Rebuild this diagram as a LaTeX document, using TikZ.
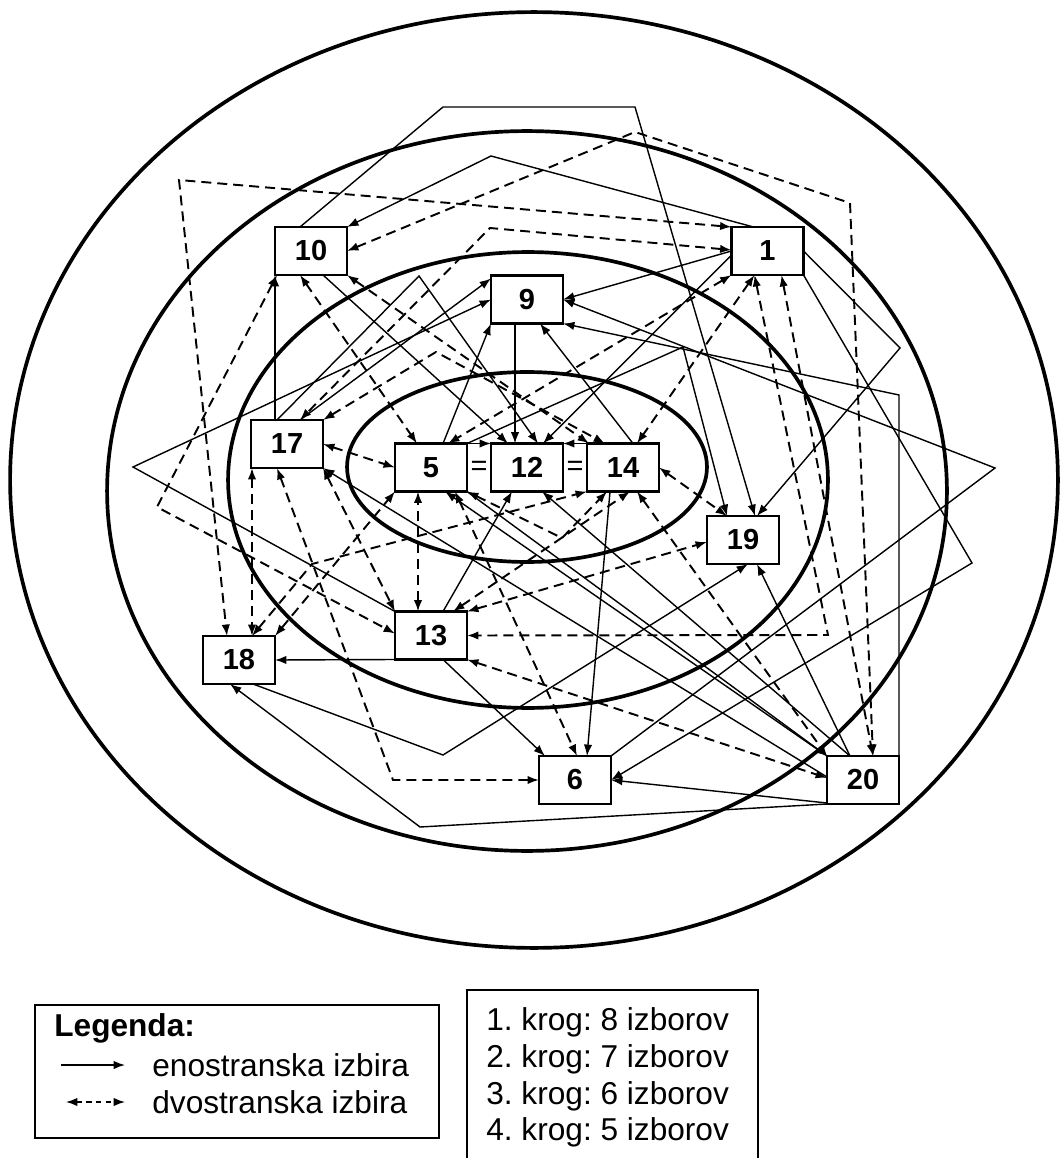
\documentclass[tikz,border=0pt]{standalone}
\usepackage{fontspec}
\setmainfont{Liberation Sans}
\usetikzlibrary{calc,arrows.meta}
\frenchspacing

\begin{document}
\begin{tikzpicture}[x=0.02cm, y=-0.02cm, >={Latex[length=6.5pt,width=4.8pt]}]
  \tikzset{
    oseba/.style={draw, line width=1.2pt, fill=white, inner sep=0pt, minimum width=1.44cm, minimum height=0.96cm, font=\fontsize{16.5}{19}\selectfont\bfseries},
    eno/.style={->, line width=0.8pt},
    dvo/.style={<->, line width=1.1pt, dash pattern=on 5.7pt off 3.4pt},
    krog/.style={line width=2.1pt},
    legtext/.style={anchor=west, inner sep=0pt, font=\fontsize{18}{21}\selectfont},
  }
  \useasboundingbox (0,0) rectangle (1059,1158);

  % krogi
  \draw[krog] (534,480) ellipse [x radius=10.48cm, y radius=9.36cm];
  \draw[krog] (527,491) ellipse [x radius=8.4cm, y radius=7.2cm];
  \draw[krog] (528,480) ellipse [x radius=6cm, y radius=4.56cm];
  \draw[krog] (527,467) ellipse [x radius=3.6cm, y radius=1.9cm];

  % osebe
  \node (u1) at (767.5,251) [oseba] {1};
  \node (u10) at (311,251) [oseba] {10};
  \node (u9) at (527,299.5) [oseba] {9};
  \node (u17) at (287,444) [oseba] {17};
  \node (u5) at (431,467.5) [oseba] {5};
  \node (u12) at (527,467.5) [oseba] {12};
  \node (u14) at (623,467.5) [oseba] {14};
  \node (u19) at (743,540) [oseba] {19};
  \node (u13) at (431,635.5) [oseba] {13};
  \node (u18) at (239,660) [oseba] {18};
  \node (u6) at (575,780) [oseba] {6};
  \node (u20) at (863,780) [oseba] {20};
  \node (eq1) at (479,468) [font=\fontsize{16.5}{19}\selectfont] {=};
  \node (eq2) at (575,468) [font=\fontsize{16.5}{19}\selectfont] {=};

  % enostranske izbire
  \draw[eno] ($(u17)+(-12,-24)$) -- ($(u10)+(-36,24)$);
  \draw[eno] ($(u17)+(13,-24)$) -- ($(u9)+(-36,-21)$);
  \draw[eno] ($(u17)+(-10,-24)$) -- (419,276) -- ($(u12)+(11,-24)$);
  \draw[eno] ($(u13)+(-36,-24)$) -- (133,467) -- ($(u9)+(-36,0)$);
  \draw[eno] ($(u5)+(12,-24)$) -- ($(u9)+(-36,24)$);
  \draw[eno] ($(u14)+(10,-24)$) -- ($(u9)+(13,24)$);
  \draw[eno] ($(u9)+(-12,24)$) -- ($(u12)+(-12,-24)$);
  \draw[eno] ($(u10)+(12,24)$) -- ($(u12)+(-19,-24)$);
  \draw[eno] ($(u1)+(-36,4)$) -- ($(u12)+(16,-24)$);
  \draw[eno] ($(u1)+(-36,0)$) -- ($(u9)+(36,0)$);
  \draw[eno] ($(u1)+(-14,-24)$) -- (491,156) -- ($(u10)+(36,-24)$);
  \draw[eno] ($(u10)+(-11,-24)$) -- (443,107) -- (635,107) -- ($(u19)+(12,-24)$);
  \draw[eno] ($(u5)+(36,-24)$) -- (683,347) -- ($(u19)+(-16,-24)$);
  \draw[eno] ($(u1)+(36,0)$) -- (900,348) -- ($(u19)+(14,-24)$);
  \draw[eno] ($(u1)+(36,24)$) -- (972,563) -- ($(u6)+(36,0)$);
  \draw[eno] ($(u6)+(36,-24)$) -- (995,468) -- ($(u9)+(36,0)$);
  \draw[eno] ($(u20)+(36,-24)$) -- (899,395) -- ($(u9)+(36,24)$);
  \draw[eno] ($(u5)+(36,-24)$) -- ($(u12)+(-36,-24)$);
  \draw[eno] ($(u14)+(-36,-24)$) -- ($(u12)+(36,-24)$);
  \draw[eno] ($(u13)+(12,-24)$) -- ($(u12)+(-15,24)$);
  \draw[eno] ($(u13)+(-36,24)$) -- ($(u18)+(36,0)$);
  \draw[eno] ($(u13)+(12,24)$) -- ($(u6)+(-30,-24)$);
  \draw[eno] ($(u14)+(-13,24)$) -- ($(u6)+(12,-24)$);
  \draw[eno] ($(u20)+(-36,-24)$) -- ($(u5)+(14,24)$);
  \draw[eno] ($(u5)+(36,24)$) -- ($(u20)+(-36,-24)$);
  \draw[eno] ($(u20)+(-13,-24)$) -- ($(u12)+(15,24)$);
  \draw[eno] ($(u20)+(-13,-24)$) -- ($(u19)+(14,24)$);
  \draw[eno] ($(u20)+(-36,-3)$) -- ($(u17)+(36,24)$);
  \draw[eno] ($(u20)+(-36,23)$) -- ($(u6)+(36,0)$);
  \draw[eno] ($(u20)+(-36,24)$) -- (420,827) -- ($(u18)+(-9,24)$);
  \draw[eno] ($(u18)+(14,24)$) -- (443,755) -- ($(u19)+(5,24)$);

  % dvostranske izbire
  \draw[dvo] ($(u1)+(-36,-24)$) -- (179,180) -- ($(u18)+(-12,-24)$);
  \draw[dvo] ($(u1)+(-36,-1)$) -- (490,228) -- ($(u17)+(13,-24)$);
  \draw[dvo] ($(u10)+(36,0)$) -- (635,132) -- (850,203) -- ($(u20)+(10,-24)$);
  \draw[dvo] ($(u1)+(14,24)$) -- ($(u20)+(10,-24)$);
  \draw[dvo] ($(u1)+(-13,24)$) -- (828,635) -- ($(u13)+(36,0)$);
  \draw[dvo] ($(u1)+(-13,24)$) -- ($(u14)+(14,-24)$);
  \draw[dvo] ($(u1)+(-36,24)$) -- ($(u5)+(17,-24)$);
  \draw[dvo] ($(u10)+(-11,24)$) -- ($(u5)+(-14,-24)$);
  \draw[dvo] ($(u10)+(36,24)$) -- ($(u14)+(-34,-24)$);
  \draw[dvo] ($(u10)+(-34,24)$) -- (157,507) -- ($(u13)+(-36,-2)$);
  \draw[dvo] ($(u17)+(36,-24)$) -- (436,352) -- ($(u14)+(-18,-24)$);
  \draw[dvo] ($(u17)+(36,0)$) -- ($(u5)+(-36,0)$);
  \draw[dvo] ($(u17)+(-35,24)$) -- ($(u18)+(13,-24)$);
  \draw[dvo] ($(u17)+(-10,24)$) -- (393,780) -- ($(u6)+(-36,0)$);
  \draw[dvo] ($(u17)+(36,24)$) -- ($(u13)+(-36,-24)$);
  \draw[dvo] ($(u18)+(36,-24)$) -- ($(u5)+(-36,24)$);
  \draw[dvo] ($(u18)+(13,-24)$) -- (312,564) -- ($(u14)+(-36,24)$);
  \draw[dvo] ($(u13)+(-13,-24)$) -- ($(u5)+(-13,24)$);
  \draw[dvo] ($(u13)+(22,-24)$) -- ($(u14)+(7,24)$);
  \draw[dvo] ($(u13)+(36,-24)$) -- ($(u19)+(-36,2)$);
  \draw[dvo] ($(u13)+(36,24)$) -- ($(u20)+(-36,-2)$);
  \draw[dvo] ($(u14)+(14,24)$) -- ($(u20)+(-36,-24)$);
  \draw[dvo] ($(u14)+(36,0)$) -- ($(u19)+(-16,-24)$);
  \draw[dvo] ($(u5)+(36,24)$) -- (562,538) -- ($(u14)+(-16,24)$);
  \draw[dvo] ($(u5)+(24,24)$) -- ($(u6)+(2,-24)$);

  % legenda
  \draw[line width=1pt] (35,1005) rectangle (439,1138);
  \node (leg) at (54,1028) [legtext, font=\fontsize{18}{21}\selectfont\bfseries] {Legenda:};
  \coordinate (ea) at (61,1065);
  \coordinate (eb) at (125,1065);
  \draw[eno] (ea) -- (eb);
  \node (et) at (152,1065) [legtext] {enostranska izbira};
  \coordinate (da) at (66,1102);
  \coordinate (db) at (125,1102);
  \draw[dvo, line width=0.8pt, dash pattern=on 3pt off 2.5pt] (da) -- (db);
  \node (dt) at (152,1102) [legtext] {dvostranska izbira};

  \draw[line width=1pt] (467,1158) -- (467,990) -- (758,990) -- (758,1158);
  \node (k1) at (486,1022) [legtext] {1. krog: 8 izborov};
  \node (k2) at (486,1059) [legtext] {2. krog: 7 izborov};
  \node (k3) at (486,1096) [legtext] {3. krog: 6 izborov};
  \node (k4) at (486,1132) [legtext] {4. krog: 5 izborov};
\end{tikzpicture}
\end{document}
